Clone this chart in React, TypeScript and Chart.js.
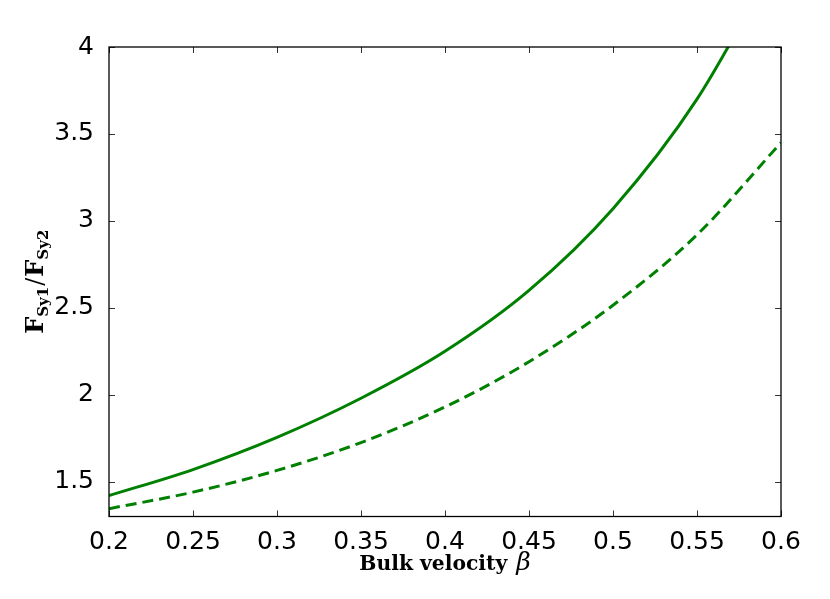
import { useEffect, useRef } from "react";
import { Chart, registerables } from "chart.js";

Chart.register(...registerables);

// Bulk velocity beta sample points
const solidBeta = [0.2, 0.25, 0.3, 0.35, 0.4, 0.45, 0.5, 0.55, 0.6];
const solidRatio = [1.42, 1.57, 1.755, 1.98, 2.25, 2.6, 3.07, 3.7, 4.55];

const dashedBeta = [0.2, 0.25, 0.3, 0.35, 0.4, 0.45, 0.5, 0.55, 0.6];
const dashedRatio = [1.345, 1.44, 1.565, 1.725, 1.93, 2.19, 2.515, 2.92, 3.45];

const xTicks = [0.2, 0.25, 0.3, 0.35, 0.4, 0.45, 0.5, 0.55, 0.6];
const yTicks = [1.5, 2, 2.5, 3, 3.5, 4];

const X_MIN = 0.2;
const X_MAX = 0.6;
const Y_MIN = 1.3;
const Y_MAX = 4;

const GREEN = "#008000";
const SERIF = "'DejaVu Serif'";

const framePlugin = {
  id: "mplFrame",
  afterDatasetsDraw(chart: any) {
    const { ctx, chartArea, scales } = chart;
    const { left, right, top, bottom } = chartArea;
    ctx.save();
    ctx.strokeStyle = "#333";
    ctx.lineWidth = 1;
    const tl = 6;
    ctx.beginPath();
    for (const v of xTicks) {
      const px = Math.round(scales.x.getPixelForValue(v)) + 0.5;
      ctx.moveTo(px, bottom);
      ctx.lineTo(px, bottom - tl);
      ctx.moveTo(px, top);
      ctx.lineTo(px, top + tl);
    }
    for (const v of yTicks) {
      const py = Math.round(scales.y.getPixelForValue(v)) + 0.5;
      ctx.moveTo(left, py);
      ctx.lineTo(left + tl, py);
      ctx.moveTo(right, py);
      ctx.lineTo(right - tl, py);
    }
    ctx.stroke();
    ctx.strokeStyle = "#000";
    ctx.lineWidth = 1.3;
    ctx.strokeRect(left, top, right - left, bottom - top);
    ctx.restore();
  },
  afterDraw(chart: any) {
    const { ctx, chartArea } = chart;
    const cx = (chartArea.left + chartArea.right) / 2;
    const cy = (chartArea.top + chartArea.bottom) / 2;
    ctx.save();
    ctx.fillStyle = "#000";
    ctx.textBaseline = "alphabetic";
    ctx.textAlign = "left";

    // X axis title: "Bulk velocity β"
    const part1 = "Bulk velocity";
    const part2 = "β";
    ctx.font = `bold 20px ${SERIF}`;
    const m = ctx.measureText(part1).width;
    const size1 = Math.min(24, (20 * 148) / m);
    const boldX = `bold ${size1.toFixed(1)}px ${SERIF}`;
    const italX = `italic 25px ${SERIF}`;
    ctx.font = boldX;
    const w1 = ctx.measureText(part1).width;
    const gap = 9;
    ctx.font = italX;
    const w2 = ctx.measureText(part2).width;
    const x0 = cx - (w1 + gap + w2) / 2;
    const by = 570;
    ctx.font = boldX;
    ctx.fillText(part1, x0, by);
    ctx.font = italX;
    ctx.fillText(part2, x0 + w1 + gap, by);

    // Y axis title: F_Sy1 / F_Sy2
    const bigF = `bold 24px ${SERIF}`;
    const subF = `bold 15px ${SERIF}`;
    const pieces: [string, string, number][] = [
      ["F", bigF, 0],
      ["Sy1", subF, 5],
      ["/", `24px ${SERIF}`, 0],
      ["F", bigF, 0],
      ["Sy2", subF, 5],
    ];
    let total = 0;
    const widths: number[] = [];
    for (const [t, f] of pieces) {
      ctx.font = f;
      const w = ctx.measureText(t).width + (t === "/" ? 2 : 0);
      widths.push(w);
      total += w;
    }
    ctx.translate(43, cy);
    ctx.rotate(-Math.PI / 2);
    let px = -total / 2;
    pieces.forEach(([t, f, dy], i) => {
      ctx.font = f;
      ctx.fillText(t, px + (t === "/" ? 1 : 0), dy);
      px += widths[i];
    });
    ctx.restore();
  },
};

export default function App() {
  const canvasRef = useRef<HTMLCanvasElement | null>(null);

  useEffect(() => {
    if (!canvasRef.current) return;
    const chart = new Chart(canvasRef.current, {
      type: "line",
      data: {
        datasets: [
          {
            label: "solid",
            data: solidBeta.map((b, i) => ({ x: b, y: solidRatio[i] })),
            borderColor: GREEN,
            borderWidth: 3,
            pointRadius: 0,
            fill: false,
            cubicInterpolationMode: "monotone",
            clip: 0,
          },
          {
            label: "dashed",
            data: dashedBeta.map((b, i) => ({ x: b, y: dashedRatio[i] })),
            borderColor: GREEN,
            borderWidth: 3,
            borderDash: [11, 6],
            pointRadius: 0,
            fill: false,
            cubicInterpolationMode: "monotone",
            clip: 0,
          },
        ],
      },
      options: {
        animation: false,
        responsive: true,
        maintainAspectRatio: false,
        layout: { padding: { top: 47, right: 49, left: 0, bottom: 0 } },
        plugins: {
          legend: { display: false },
          tooltip: { enabled: false },
          title: { display: false },
        },
        scales: {
          x: {
            type: "linear",
            min: X_MIN,
            max: X_MAX,
            grid: { display: false },
            border: { display: false },
            afterBuildTicks: (scale: any) => {
              scale.ticks = xTicks.map((v) => ({ value: v }));
            },
            afterFit: (scale: any) => {
              scale.height = 82.5;
            },
            ticks: {
              autoSkip: false,
              maxRotation: 0,
              padding: 3,
              color: "#000",
              font: { family: "'DejaVu Sans'", size: 25 },
              callback: (v: any) => String(v),
            },
          },
          y: {
            type: "linear",
            min: Y_MIN,
            max: Y_MAX,
            grid: { display: false },
            border: { display: false },
            afterBuildTicks: (scale: any) => {
              scale.ticks = yTicks.map((v) => ({ value: v }));
            },
            afterFit: (scale: any) => {
              scale.width = 109;
            },
            ticks: {
              autoSkip: false,
              padding: 7,
              color: "#000",
              font: { family: "'DejaVu Sans'", size: 25 },
              callback: (v: any) => String(v),
            },
          },
        },
      },
      plugins: [framePlugin],
    } as any);
    return () => chart.destroy();
  }, []);

  return (
    <div style={{ position: "fixed", left: 0, top: 0, width: 830, height: 599, background: "#fff" }}>
      <canvas ref={canvasRef} />
    </div>
  );
}
